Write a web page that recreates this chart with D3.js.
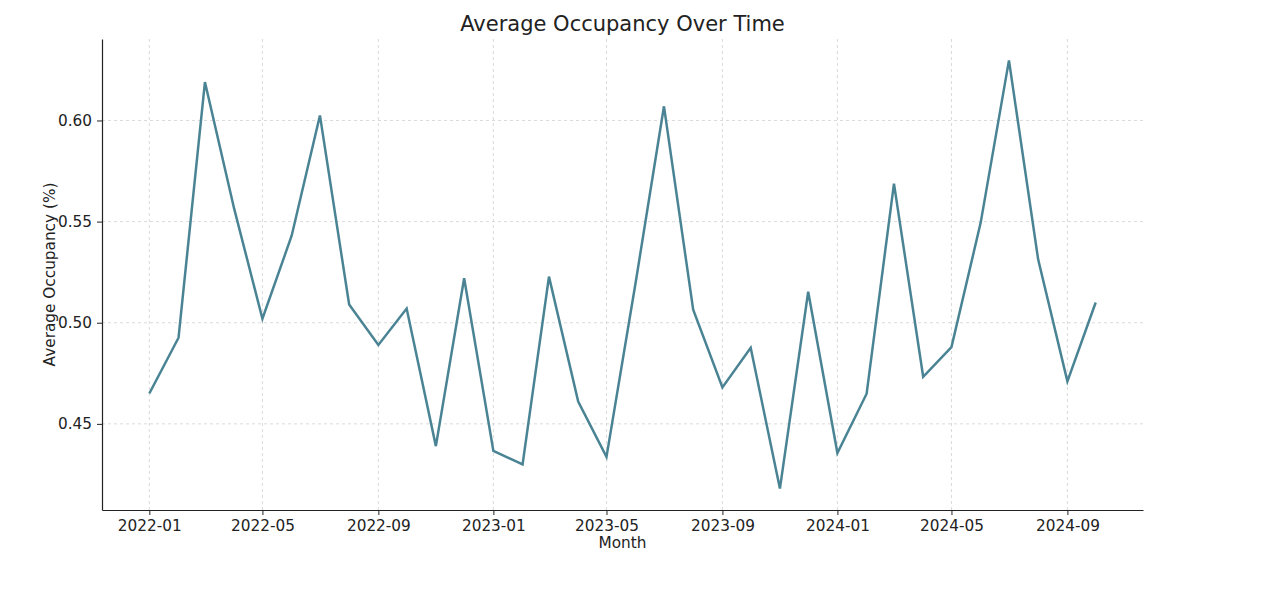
<!DOCTYPE html>
<html>
<head>
<meta charset="utf-8">
<script src="https://cdn.jsdelivr.net/npm/d3@7"></script>
<style>
  body { margin: 0; background: #fff; }
  text { font-family: "DejaVu Sans", sans-serif; fill: #222; }
  .grid line { stroke: #d0d0d0; stroke-dasharray: 3,3; stroke-width: 0.8; }
  .axis path, .axis line { stroke: #222; }
</style>
</head>
<body>
<svg id="chart" width="1278" height="614"></svg>
<script>
// monthly values, 2022-01 .. 2024-10
var months = ["2022-01","2022-02","2022-03","2022-04","2022-05","2022-06","2022-07","2022-08","2022-09","2022-10","2022-11","2022-12",
  "2023-01","2023-02","2023-03","2023-04","2023-05","2023-06","2023-07","2023-08","2023-09","2023-10","2023-11","2023-12",
  "2024-01","2024-02","2024-03","2024-04","2024-05","2024-06","2024-07","2024-08","2024-09","2024-10"];
var occupancy = [0.465, 0.4926, 0.619, 0.5564, 0.502, 0.543, 0.6025, 0.509, 0.489, 0.507, 0.439, 0.522,
  0.4366, 0.430, 0.5228, 0.461, 0.4337, 0.520, 0.607, 0.5064, 0.468, 0.4876, 0.418, 0.5153,
  0.4356, 0.4649, 0.5688, 0.4733, 0.488, 0.5495, 0.6297, 0.5312, 0.471, 0.510];
var xTicks = ["2022-01","2022-05","2022-09","2023-01","2023-05","2023-09","2024-01","2024-05","2024-09"];
var yTicks = [0.45, 0.50, 0.55, 0.60];

var parse = d3.timeParse("%Y-%m");
var data = months.map(function(m, i) { return {date: parse(m), value: occupancy[i]}; });

var plotLeft = 102, plotRight = 1143, plotTop = 39, plotBottom = 510;
var svg = d3.select("#chart");

// matplotlib-ish 5% margins
var t0 = data[0].date.getTime(), t1 = data[data.length - 1].date.getTime();
var pad = (t1 - t0) * 0.05;
var x = d3.scaleTime().domain([new Date(t0 - pad), new Date(t1 + pad)]).range([plotLeft, plotRight]);
var ext = d3.extent(occupancy);
var ypad = (ext[1] - ext[0]) * 0.05;
var y = d3.scaleLinear().domain([ext[0] - ypad, ext[1] + ypad]).range([plotBottom, plotTop]);

var xt = xTicks.map(parse);

// grid
svg.append("g").attr("class", "grid")
  .selectAll("line").data(xt).enter().append("line")
  .attr("x1", function(d) { return x(d); }).attr("x2", function(d) { return x(d); })
  .attr("y1", plotTop).attr("y2", plotBottom);
svg.append("g").attr("class", "grid")
  .selectAll("line").data(yTicks).enter().append("line")
  .attr("y1", function(d) { return y(d); }).attr("y2", function(d) { return y(d); })
  .attr("x1", plotLeft).attr("x2", plotRight);

// axes
var xAxis = svg.append("g").attr("class", "axis")
  .attr("transform", "translate(0," + plotBottom + ")")
  .call(d3.axisBottom(x).tickValues(xt).tickFormat(d3.timeFormat("%Y-%m")).tickSize(5).tickSizeOuter(0).tickPadding(5));
var yAxis = svg.append("g").attr("class", "axis")
  .attr("transform", "translate(" + plotLeft + ",0)")
  .call(d3.axisLeft(y).tickValues(yTicks).tickFormat(d3.format(".2f")).tickSize(5).tickSizeOuter(0).tickPadding(5));
[xAxis, yAxis].forEach(function(a) {
  a.selectAll("text").style("font-size", "15.3px").style("font-family", "DejaVu Sans").attr("fill", "#222");
  a.select(".domain").attr("stroke-width", 1.2);
});

// line
var line = d3.line()
  .x(function(d) { return x(d.date); })
  .y(function(d) { return y(d.value); });
svg.append("path").datum(data)
  .attr("d", line)
  .attr("fill", "none")
  .attr("stroke", "#4a8494")
  .attr("stroke-width", 2.5)
  .attr("stroke-linejoin", "miter");

// labels
svg.append("text").attr("x", (plotLeft + plotRight) / 2).attr("y", 31)
  .attr("text-anchor", "middle").style("font-size", "21px").text("Average Occupancy Over Time");
svg.append("text").attr("x", (plotLeft + plotRight) / 2).attr("y", 548)
  .attr("text-anchor", "middle").style("font-size", "15.3px").text("Month");
svg.append("text").attr("transform", "translate(55," + (plotTop + plotBottom) / 2 + ") rotate(-90)")
  .attr("text-anchor", "middle").style("font-size", "15.3px").text("Average Occupancy (%)");
</script>
</body>
</html>
